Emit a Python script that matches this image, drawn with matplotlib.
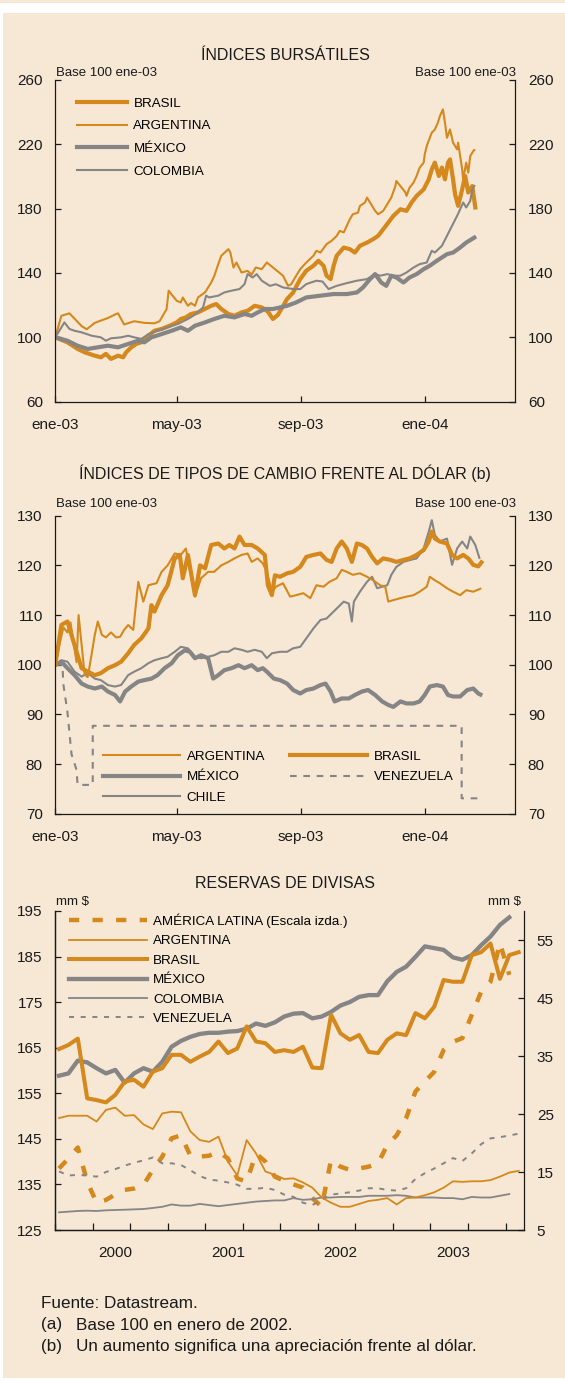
import matplotlib
matplotlib.use('Agg')
import matplotlib.pyplot as plt
import numpy as np
from matplotlib.patches import Rectangle

plt.rcParams['font.family'] = ['Liberation Sans', 'DejaVu Sans']

BEIGE = '#F7E8D5'
ORANGE = '#D5881C'
GRAY = '#858585'
INK = '#1A1A1A'

# ---------------- Índices bursátiles (días desde 1-ene-2003) ----------------
bol_arg_d = [0, 6, 14, 26, 31, 39, 52, 60, 62, 68, 78, 88, 98, 103, 110, 112, 116, 120, 124, 126,
             131, 134, 138, 141, 148, 154, 157, 161, 164, 171, 173, 176, 179, 184, 190, 194, 198, 204,
             209, 219, 225, 230, 233, 238, 242, 248, 255, 258, 262, 268, 273, 278, 281, 285, 291, 294,
             299, 301, 306, 308, 311, 316, 319, 324, 329, 332, 336, 337, 341, 346, 347, 350, 354, 357,
             360, 364, 365, 367, 370, 372, 375, 378, 380, 383, 385, 387, 390, 393, 397, 398, 400, 402,
             403, 406, 408, 410, 413, 414]
bol_arg_v = [100, 113.4, 114.9, 107, 105, 109, 112, 114.5, 114.9, 108, 110, 109, 108.7, 110, 117.6,
             129, 125.8, 122.7, 121.7, 124.8, 119.6, 121.3, 119.6, 124.8, 128, 134, 138, 145.5, 150.7,
             154.8, 152.7, 143.4, 146.5, 140.3, 141.3, 139, 143.4, 142.4, 146.5, 141.4, 138.3, 132, 133,
             138.3, 142.4, 146.5, 150.7, 153.8, 152.7, 157.9, 160, 163, 166.2, 165.2, 173.4, 176.5,
             177.5, 181.7, 183.8, 186.9, 183.8, 178.6, 176.5, 178.6, 183.8, 186.9, 194, 197.2, 194, 190,
             187.9, 193, 196.2, 200.3, 205.5, 208.6, 213.7, 218.9, 224, 227.2, 229.2, 233.4, 237.5,
             241.7, 233.4, 224, 229.2, 221, 216.8, 221, 212.7, 204.4, 198.2, 208.6, 202.4, 212.7, 215.8,
             216.4]
bol_bra_d = [0, 12, 22, 29, 39, 45, 50, 55, 62, 67, 70, 75, 80, 85, 92, 98, 105, 113, 120, 124, 129,
             134, 141, 154, 159, 164, 171, 177, 184, 190, 197, 204, 210, 215, 220, 229, 235, 242, 248,
             255, 260, 265, 268, 272, 275, 278, 285, 291, 296, 301, 308, 314, 319, 324, 329, 334, 341,
             347, 352, 357, 364, 369, 372, 375, 379, 382, 385, 388, 390, 393, 395, 398, 402, 405, 408,
             412, 415]
bol_bra_v = [100, 96.9, 92.8, 90.7, 88.6, 87.6, 89.7, 86.6, 88.6, 87.6, 90.7, 93.8, 95.9, 96.9, 101,
             104.1, 105.2, 107.2, 109.3, 111.4, 112.4, 114.5, 115.5, 119.6, 120.7, 117.6, 114.5, 113.4,
             115.5, 116.5, 119.6, 118.6, 116, 111.4, 114, 123.8, 127.9, 136.2, 141.4, 144.5, 147.6,
             144.5, 138.3, 136.2, 144.5, 150.7, 155.8, 154.8, 152.7, 156.9, 158.9, 161, 163.1, 167.2,
             171.3, 175.5, 179.6, 178.6, 183.8, 187.9, 192, 198.2, 204.4, 208.6, 200.3, 205.5, 198.2,
             208.6, 210.6, 198.2, 188.9, 181.7, 192, 200.3, 190, 194, 180.7]
bol_mex_d = [0, 12, 22, 32, 42, 52, 62, 72, 82, 88, 95, 105, 115, 124, 131, 138, 148, 157, 167, 177,
             187, 194, 200, 207, 215, 229, 238, 248, 262, 275, 288, 298, 304, 311, 316, 322, 327, 332,
             337, 344, 350, 357, 364, 370, 377, 387, 393, 400, 406, 414]
bol_mex_v = [100, 97.9, 94.8, 92.8, 93.8, 94.8, 93.8, 95.9, 97.9, 96.9, 100, 102, 104.1, 106.2, 104.1,
             107.2, 109.3, 111.4, 113.4, 112.4, 114.5, 113.4, 115.5, 117.6, 117.6, 119.6, 121.7, 124.8,
             125.9, 126.9, 126.9, 127.9, 131, 136.2, 139.3, 134.1, 132, 138.3, 137.2, 134.1, 137.2,
             139.3, 142.4, 144.5, 147.6, 151.7, 152.7, 155.8, 158.9, 162]
bol_col_d = [0, 9, 14, 19, 26, 36, 45, 50, 55, 65, 72, 78, 85, 92, 101, 111, 121, 131, 139, 146, 149,
             152, 161, 167, 174, 182, 187, 190, 195, 199, 204, 212, 218, 225, 235, 242, 248, 258, 264,
             270, 278, 288, 298, 308, 316, 321, 328, 334, 341, 347, 354, 360, 367, 372, 375, 382, 387,
             392, 397, 400, 403, 406, 410, 412, 414]
bol_col_v = [100, 109.3, 105.2, 104.1, 103.1, 101, 100, 97.9, 99.4, 100, 101, 100, 99, 102, 104.1,
             106.2, 108.3, 111.4, 114.5, 118.6, 125.9, 124.8, 125.9, 127.9, 129, 130, 133.1, 139.3,
             137.2, 139.3, 135.2, 132, 133, 131, 130, 130, 133.1, 135.2, 134.7, 130, 132, 133.7, 135.2,
             136.2, 139.3, 138.3, 139.3, 138.3, 138.3, 140.3, 143.4, 145.5, 146.5, 153.8, 152.7, 156.9,
             163.1, 169.3, 175.5, 179.6, 183.8, 180.7, 184.8, 192, 194.1]

# ---------------- Tipos de cambio frente al dólar ----------------
tc_arg_d = [0, 4, 8, 12, 15, 18, 21, 23, 26, 29, 32, 35, 39, 42, 46, 50, 55, 60, 64, 68, 72, 77, 82,
            87, 92, 100, 105, 111, 118, 124, 129, 134, 138, 144, 151, 157, 164, 171, 177, 184, 190,
            194, 200, 205, 209, 214, 218, 225, 232, 238, 245, 252, 258, 265, 271, 278, 283, 288, 294,
            301, 308, 314, 321, 326, 329, 334, 341, 347, 354, 360, 367, 370, 375, 380, 387, 393, 400,
            406, 413, 420]
tc_arg_v = [100, 104, 107.5, 106.5, 108.5, 104.5, 100.5, 110, 104, 98, 97.5, 101, 106, 108.7, 106,
            105.5, 106.5, 105.5, 105.6, 107, 108, 107, 116.7, 112.7, 116, 116.4, 118.7, 120, 122.4,
            122.1, 123.4, 118, 113.7, 117.4, 118.7, 118.7, 120, 120.7, 121.4, 122.1, 122.4, 120.7,
            121.4, 120.4, 118.7, 114.7, 115.7, 116.4, 113.7, 114, 114.4, 113.4, 116, 115.7, 116.7,
            117.4, 119.1, 118.7, 118.1, 118.4, 117.7, 117, 116, 115.7, 112.7, 113, 113.4, 113.7, 114,
            114.7, 115.7, 117.7, 117, 116.4, 115.4, 114.7, 114, 115, 114.7, 115.3]
tc_bra_d = [0, 6, 12, 17, 21, 26, 32, 39, 45, 52, 59, 65, 72, 78, 85, 92, 95, 98, 105, 111, 118, 123,
            126, 131, 138, 143, 148, 154, 161, 167, 172, 177, 182, 187, 194, 200, 207, 210, 214, 217,
            222, 229, 235, 242, 248, 255, 262, 268, 273, 278, 283, 288, 293, 298, 303, 308, 313, 318,
            324, 331, 337, 344, 350, 357, 364, 369, 372, 375, 380, 387, 392, 397, 403, 408, 413, 418,
            421]
tc_bra_v = [100, 108, 108.7, 105.3, 102.6, 99.3, 98.6, 97.9, 98.3, 99.3, 99.9, 100.6, 102.3, 104,
            105.3, 107.3, 112, 110.7, 114, 116, 121.4, 122.1, 117.4, 122.1, 114, 120, 119.4, 124.1,
            124.4, 123.4, 124.1, 123.4, 125.8, 124.1, 124.1, 123.4, 122.1, 116, 114, 118, 117.7, 118.4,
            118.7, 119.7, 121.7, 122.1, 122.4, 121.1, 120.7, 123.4, 124.8, 123.4, 120.7, 124.4, 124.1,
            123.4, 121.7, 120.4, 121.4, 121.1, 120.7, 121.1, 121.4, 122.1, 123.1, 124.8, 126.8, 125.4,
            124.8, 124.4, 122.1, 121.4, 122.1, 121.4, 120.1, 119.8, 120.6]
tc_chi_d = [0, 6, 12, 19, 26, 32, 39, 45, 52, 59, 65, 72, 78, 85, 92, 98, 105, 111, 118, 124, 131,
            138, 144, 151, 157, 164, 171, 177, 184, 190, 197, 204, 209, 214, 222, 229, 235, 242, 248,
            255, 262, 268, 273, 278, 285, 290, 293, 295, 301, 308, 313, 318, 323, 328, 332, 337, 344,
            351, 357, 364, 369, 372, 375, 380, 387, 392, 397, 402, 407, 410, 415, 419]
tc_chi_v = [100, 100.9, 100.6, 98.6, 97.6, 98.3, 97.2, 96.9, 95.9, 95.6, 95.9, 97.9, 98.6, 99.3,
            100.3, 100.9, 101.3, 101.6, 102.6, 103.6, 103.3, 101.6, 101.3, 101.6, 101.9, 102.6, 102.6,
            103.3, 103, 102.6, 103, 102.6, 101.3, 102.3, 102.6, 102.6, 103.3, 103.6, 105.3, 107.3, 109,
            109.3, 110.3, 111.3, 112.7, 112.3, 108.7, 112.7, 114.7, 116.7, 117.7, 115.4, 115.7, 116,
            118.1, 119.7, 120.7, 121.1, 121.4, 123.4, 126.8, 129.1, 126.1, 124.8, 125.4, 120.1, 123.4,
            124.8, 123.4, 125.8, 124.1, 121.5]
tc_mex_d = [0, 6, 12, 19, 26, 32, 39, 46, 52, 59, 64, 69, 75, 82, 88, 95, 101, 108, 115, 121, 128,
            133, 138, 144, 151, 156, 161, 167, 174, 181, 187, 194, 200, 205, 209, 216, 222, 229, 235,
            242, 248, 255, 262, 267, 272, 276, 283, 290, 296, 303, 309, 316, 323, 329, 334, 341, 347,
            354, 360, 365, 370, 377, 383, 388, 393, 400, 407, 413, 418, 420]
tc_mex_v = [100, 100.6, 99.3, 97.9, 96.2, 95.6, 95.2, 95.6, 94.6, 93.9, 92.6, 94.6, 95.6, 96.6, 96.9,
            97.2, 97.9, 99.3, 100.3, 101.9, 102.9, 102.6, 101.3, 101.9, 101.3, 97.2, 97.9, 98.9, 99.3,
            99.9, 99.3, 99.9, 98.9, 99.3, 98.6, 97.2, 96.9, 96.2, 94.9, 94.2, 94.9, 95.2, 95.9, 96.2,
            94.6, 92.6, 93.2, 93.2, 93.9, 94.6, 94.9, 93.9, 92.6, 91.9, 91.5, 92.6, 92.2, 92.2, 92.6,
            93.9, 95.6, 95.9, 95.6, 93.9, 93.6, 93.6, 94.9, 95.2, 94.2, 94]
tc_ven_d = [0, 7, 8, 12, 16, 21, 22, 37, 37, 401.5, 401.5, 420]
tc_ven_v = [100, 100, 96, 90.5, 82, 78.8, 75.8, 75.8, 87.7, 87.7, 73.1, 73.1]

# ---------------- Reservas de divisas (mensual desde ene-2000, mm $) ----------------
res_latam = [138.5, 140.7, 143.1, 135.6, 131.0, 131.6, 132.8, 133.8, 134.1, 134.9, 138.2, 141.1,
             145.1, 145.8, 141.3, 141.1, 141.3, 142.2, 140.7, 136.3, 135.6, 141.8, 140.0, 136.7,
             135.8, 135.0, 134.3, 132.0, 130.1, 140.4, 138.9, 138.2, 138.5, 138.9, 139.6, 143.7,
             145.8, 149.5, 155.4, 157.6, 159.7, 164.5, 166.3, 167.1, 172.2, 177.3, 179.5, 188.0, 181.0]
res_arg = [24.3, 24.7, 24.7, 24.7, 23.7, 25.7, 26.1, 24.7, 24.8, 23.2, 22.4, 25.1, 25.4, 25.3, 22.0,
           20.5, 20.2, 21.1, 16.8, 14.4, 20.5, 18.2, 15.1, 14.5, 13.8, 13.9, 13.2, 12.3, 10.6, 9.7,
           9.0, 9.0, 9.5, 10.0, 10.2, 10.5, 9.4, 10.5, 10.6, 11.0, 11.5, 12.3, 13.4, 13.3, 13.4, 13.4,
           13.6, 14.2, 14.9, 15.2]
res_bra = [36.2, 36.9, 38.0, 27.7, 27.4, 27.0, 28.3, 30.6, 30.9, 29.7, 32.3, 32.9, 35.2, 35.2, 34.0,
           34.9, 35.7, 37.5, 35.5, 36.3, 40.1, 37.5, 37.2, 35.7, 36.0, 35.7, 36.6, 33.0, 32.9, 42.1,
           38.9, 37.8, 38.6, 35.7, 35.5, 37.8, 38.9, 38.6, 42.4, 41.5, 43.5, 48.1, 47.8, 47.8, 52.4,
           52.9, 54.4, 48.3, 52.4, 52.9]
res_mex = [31.6, 32.0, 34.2, 33.9, 32.9, 32.0, 32.6, 30.4, 32.0, 32.9, 32.3, 34.0, 36.6, 37.6, 38.3,
           38.8, 39.0, 39.0, 39.2, 39.3, 39.7, 40.6, 40.2, 40.8, 41.8, 42.3, 42.4, 41.5, 41.8, 42.6,
           43.7, 44.3, 45.2, 45.5, 45.5, 47.9, 49.5, 50.4, 52.1, 53.9, 53.6, 53.3, 52.0, 51.6, 52.4,
           54.1, 55.6, 57.6, 58.9]
res_col = [8.05, 8.16, 8.28, 8.33, 8.28, 8.39, 8.45, 8.5, 8.56, 8.62, 8.8, 9.0, 9.4, 9.2, 9.2, 9.5,
           9.3, 9.1, 9.3, 9.5, 9.7, 9.9, 10.0, 10.1, 10.1, 10.5, 10.2, 10.3, 10.6, 10.6, 10.7, 10.7,
           10.7, 10.9, 10.9, 10.9, 11.0, 10.9, 10.6, 10.6, 10.6, 10.5, 10.5, 10.3, 10.7, 10.6, 10.6,
           10.9, 11.2]
res_ven = [15.1, 14.4, 14.5, 14.4, 14.2, 15.0, 15.5, 16.1, 16.6, 17.0, 17.5, 16.5, 16.5, 16.2, 15.3,
           14.3, 13.7, 13.5, 13.2, 12.8, 12.1, 12.1, 12.3, 11.9, 11.1, 10.7, 9.7, 9.3, 10.2, 11.1,
           11.3, 11.5, 11.8, 12.2, 12.2, 11.9, 11.8, 12.2, 13.8, 14.8, 15.6, 16.5, 17.4, 16.9, 18.2,
           19.8, 20.8, 21.0, 21.3, 21.6]

month_ticks = [0, 120, 243, 365]
month_labels = ['ene-03', 'may-03', 'sep-03', 'ene-04']
year_labels = ['2000', '2001', '2002', '2003']

W, H = 565, 1381
fig = plt.figure(figsize=(W / 100, H / 100), dpi=100, facecolor='white')
fig.patches.append(Rectangle((3 / W, 3 / H), 1, (1378 - 13) / H, transform=fig.transFigure,
                             facecolor=BEIGE, edgecolor='none', zorder=-10))
fig.patches.append(Rectangle((0, 1 - 3 / H), 1, 3 / H, transform=fig.transFigure,
                             facecolor=BEIGE, edgecolor='none', zorder=-10))


def px_axes(left, top, right, bottom):
    return fig.add_axes([left / W, 1 - bottom / H, (right - left) / W, (bottom - top) / H])


def style(ax):
    ax.set_facecolor('none')
    ax.spines['top'].set_visible(False)
    for s in ['left', 'right', 'bottom']:
        ax.spines[s].set_color(INK)
        ax.spines[s].set_linewidth(0.9)
    ax.tick_params(which='both', direction='in', length=4, width=0.9, color=INK, labelcolor=INK,
                   labelsize=11, pad=9)
    ax.tick_params(axis='x', which='both', pad=11.5)


def month_axis(ax):
    ax.set_xlim(0, 454.5)
    ax.set_xticks(month_ticks, labels=month_labels)
    ax.tick_params(axis='y', left=True, right=True, labelleft=True, labelright=True)


leg_kw = dict(frameon=False, fontsize=9.6, borderpad=0, borderaxespad=0, handletextpad=0.5)

# ---------- panel 1 ----------
ax1 = px_axes(55.3, 79.9, 515.3, 401.7)
style(ax1)
month_axis(ax1)
ax1.set_ylim(60, 260)
ax1.set_yticks(range(60, 261, 40))
l_bra, = ax1.plot(bol_bra_d, bol_bra_v, color=ORANGE, lw=3.0, label='BRASIL')
l_arg, = ax1.plot(bol_arg_d, bol_arg_v, color=ORANGE, lw=1.5, label='ARGENTINA')
l_mex, = ax1.plot(bol_mex_d, bol_mex_v, color=GRAY, lw=3.0, label='MÉXICO')
l_col, = ax1.plot(bol_col_d, bol_col_v, color=GRAY, lw=1.5, label='COLOMBIA')
ax1.legend(handles=[l_bra, l_arg, l_mex, l_col], loc='upper left', bbox_to_anchor=(0.048, 0.946),
           handlelength=3.7, labelspacing=0.78, **leg_kw)
ax1.text(0.001, 1.022, 'Base 100 ene-03', transform=ax1.transAxes, ha='left', va='center',
         fontsize=9.5, color=INK)
ax1.text(1.001, 1.022, 'Base 100 ene-03', transform=ax1.transAxes, ha='right', va='center',
         fontsize=9.5, color=INK)
fig.text(285 / W, 1 - 56 / H, 'ÍNDICES BURSÁTILES', ha='center', va='center', fontsize=11.5,
         color=INK)

# ---------- panel 2 ----------
ax2 = px_axes(55.3, 515.7, 515.3, 813.7)
style(ax2)
month_axis(ax2)
ax2.set_ylim(70, 130)
ax2.set_yticks(range(70, 131, 10))
t_ven, = ax2.plot(tc_ven_d, tc_ven_v, color=GRAY, lw=1.5, ls=(0, (3.2, 3.2)), label='VENEZUELA')
t_chi, = ax2.plot(tc_chi_d, tc_chi_v, color=GRAY, lw=1.5, label='CHILE')
t_mex, = ax2.plot(tc_mex_d, tc_mex_v, color=GRAY, lw=3.0, label='MÉXICO')
t_arg, = ax2.plot(tc_arg_d, tc_arg_v, color=ORANGE, lw=1.5, label='ARGENTINA')
t_bra, = ax2.plot(tc_bra_d, tc_bra_v, color=ORANGE, lw=3.0, label='BRASIL')
ax2.legend(handles=[t_arg, t_mex, t_chi, t_bra, t_ven], ncol=2, loc='upper left',
           bbox_to_anchor=(0.103, 0.212), handlelength=5.8, columnspacing=1.85,
           labelspacing=0.61, **leg_kw)
ax2.text(0.001, 1.038, 'Base 100 ene-03', transform=ax2.transAxes, ha='left', va='center',
         fontsize=9.5, color=INK)
ax2.text(1.001, 1.038, 'Base 100 ene-03', transform=ax2.transAxes, ha='right', va='center',
         fontsize=9.5, color=INK)
fig.text(285 / W, 1 - 473 / H, 'ÍNDICES DE TIPOS DE CAMBIO FRENTE AL DÓLAR (b)', ha='center',
         va='center', fontsize=11.5, color=INK)

# ---------- panel 3 ----------
ax3 = px_axes(55.3, 911, 524.3, 1230)
style(ax3)
ax3r = ax3.twinx()
style(ax3r)
ax3.spines['right'].set_visible(False)
ax3.set_xlim(0, 50)
ax3.set_ylim(125, 195)
ax3.set_yticks(range(125, 196, 10))
ax3r.set_ylim(5, 60)
ax3r.set_yticks(range(5, 56, 10))
ax3.set_xticks(range(0, 49, 4), labels=[''] * 13)
ax3.set_xticks([6.4, 18.4, 30.4, 42.4], labels=year_labels, minor=True)
ax3.tick_params(axis='x', which='minor', length=0)
ax3.tick_params(axis='x', which='major', length=5)

xm = np.arange(50) + 0.4
r_lat, = ax3.plot(xm[:len(res_latam)], res_latam, color=ORANGE, lw=3.2, ls=(0, (2.3, 3.0)),
                  label='AMÉRICA LATINA (Escala izda.)')
r_ven, = ax3r.plot(xm[:len(res_ven)], res_ven, color=GRAY, lw=1.4, ls=(0, (2.6, 3.4)),
                   label='VENEZUELA')
r_col, = ax3r.plot(xm[:len(res_col)], res_col, color=GRAY, lw=1.3, label='COLOMBIA')
r_arg, = ax3r.plot(xm[:len(res_arg)], res_arg, color=ORANGE, lw=1.3, label='ARGENTINA')
r_mex, = ax3r.plot(xm[:len(res_mex)], res_mex, color=GRAY, lw=3.1, label='MÉXICO')
r_bra, = ax3r.plot(xm[:len(res_bra)], res_bra, color=ORANGE, lw=2.9, label='BRASIL')
ax3r.legend(handles=[r_lat, r_arg, r_bra, r_mex, r_col, r_ven], loc='upper left',
            bbox_to_anchor=(0.030, 0.992), handlelength=5.8, labelspacing=0.53, **leg_kw)
ax3.text(0.001, 1.029, 'mm $', transform=ax3.transAxes, ha='left', va='center', fontsize=9.5,
         color=INK)
ax3.text(0.994, 1.029, 'mm $', transform=ax3.transAxes, ha='right', va='center', fontsize=9.5,
         color=INK)
fig.text(285 / W, 1 - 883.5 / H, 'RESERVAS DE DIVISAS', ha='center', va='center', fontsize=11.5,
         color=INK)

# ---------- notas ----------
fs_note = 12.3
fig.text(41 / W, 1 - 1304 / H, 'Fuente: Datastream.', ha='left', va='center', fontsize=fs_note,
         color=INK)
fig.text(41 / W, 1 - 1325 / H, '(a)', ha='left', va='center', fontsize=fs_note, color=INK)
fig.text(76.4 / W, 1 - 1325 / H, 'Base 100 en enero de 2002.', ha='left', va='center',
         fontsize=fs_note, color=INK)
fig.text(41 / W, 1 - 1346 / H, '(b)', ha='left', va='center', fontsize=fs_note, color=INK)
fig.text(76.4 / W, 1 - 1346 / H, 'Un aumento significa una apreciación frente al dólar.', ha='left',
         va='center', fontsize=fs_note, color=INK)

fig.savefig('out.png', dpi=100, facecolor='white')
